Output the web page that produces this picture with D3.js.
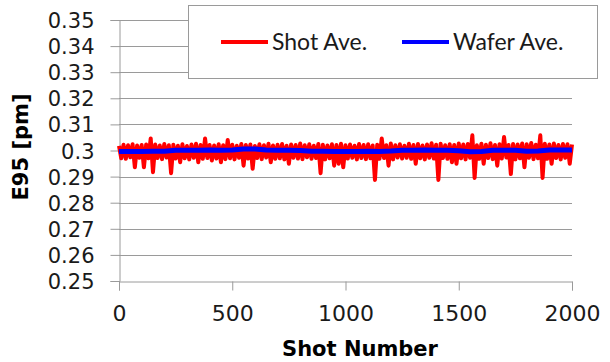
<!DOCTYPE html>
<html>
<head>
<meta charset="utf-8">
<script src="https://cdn.jsdelivr.net/npm/d3@7"></script>
<style>
  html, body { margin: 0; padding: 0; background: #fff; }
  svg { display: block; }
  .tick text { font-family: "DejaVu Sans", sans-serif; fill: #1a1a1a; }
  .y-axis .tick text { font-size: 21px; }
  .x-axis .tick text { font-size: 22px; }
  .title { font-family: "DejaVu Sans", sans-serif; font-weight: bold; font-size: 21px; fill: #000; }
  .legend text { font-family: Lato, "DejaVu Sans", sans-serif; font-size: 23px; fill: #1a1a1a; }
</style>
</head>
<body>
<svg id="chart" width="610" height="362"></svg>
<script>
// Per-shot E95 averages, sampled every 10 shots (0 .. 2000)
const shotStep = 10;
const shotAve = [
  0.3018, 0.2970, 0.3022, 0.2968, 0.3020, 0.2974, 0.3024, 0.2936, 0.3019, 0.2972,
  0.3021, 0.2936, 0.3023, 0.2970, 0.3046, 0.2917, 0.3023, 0.2971, 0.3019, 0.2967,
  0.3025, 0.2973, 0.3020, 0.2913, 0.3022, 0.2969, 0.3018, 0.2955, 0.3024, 0.2970,
  0.3017, 0.2966, 0.3023, 0.2972, 0.3026, 0.2955, 0.3021, 0.2968, 0.3046, 0.2971,
  0.3021, 0.2962, 0.3019, 0.2969, 0.3024, 0.2955, 0.3020, 0.2967, 0.3040, 0.2970,
  0.3022, 0.2966, 0.3018, 0.2972, 0.3025, 0.2942, 0.3021, 0.2969, 0.3023, 0.2930,
  0.3017, 0.2971, 0.3024, 0.2967, 0.3020, 0.2973, 0.3026, 0.2955, 0.3019, 0.2968,
  0.3022, 0.2970, 0.3025, 0.2966, 0.3018, 0.2949, 0.3023, 0.2972, 0.3021, 0.2969,
  0.3027, 0.2967, 0.3020, 0.2974, 0.3024, 0.2968, 0.3018, 0.2971, 0.3025, 0.2913,
  0.3022, 0.2966, 0.3019, 0.2970, 0.3024, 0.2942, 0.3021, 0.2949, 0.3026, 0.2936,
  0.3020, 0.2969, 0.3023, 0.2972, 0.3018, 0.2966, 0.3025, 0.2971, 0.3021, 0.2967,
  0.3024, 0.2970, 0.3019, 0.2887, 0.3022, 0.2968, 0.3046, 0.2971, 0.3020, 0.2942,
  0.3027, 0.2966, 0.3020, 0.2973, 0.3024, 0.2969, 0.3018, 0.2972, 0.3026, 0.2968,
  0.3021, 0.2949, 0.3025, 0.2970, 0.3019, 0.2966, 0.3023, 0.2972, 0.3028, 0.2969,
  0.3022, 0.2887, 0.3026, 0.2971, 0.3020, 0.2968, 0.3024, 0.2955, 0.3021, 0.2949,
  0.3027, 0.2970, 0.3023, 0.2966, 0.3025, 0.2972, 0.3058, 0.2895, 0.3020, 0.2968,
  0.3026, 0.2949, 0.3022, 0.2971, 0.3028, 0.2967, 0.3021, 0.2942, 0.3024, 0.2969,
  0.3052, 0.2973, 0.3021, 0.2910, 0.3025, 0.2966, 0.3023, 0.2970, 0.3027, 0.2936,
  0.3024, 0.2972, 0.3029, 0.2967, 0.3022, 0.2970, 0.3058, 0.2895, 0.3026, 0.2968,
  0.3023, 0.2949, 0.3027, 0.2971, 0.3021, 0.2966, 0.3025, 0.2972, 0.3024, 0.2949,
  0.3023
];

// Running wafer averages, sampled every 50 shots (0 .. 2000)
const waferStep = 50;
const waferAve = [
  0.2996, 0.2996, 0.2996, 0.2997, 0.2997, 0.3001, 0.3001, 0.3001, 0.3002, 0.3001,
  0.3002, 0.3006, 0.3006, 0.3002, 0.3001, 0.3001, 0.3000, 0.2997, 0.2997, 0.2996,
  0.2996, 0.2996, 0.2997, 0.2996, 0.2998, 0.3001, 0.3001, 0.3002, 0.3001, 0.3001,
  0.2999, 0.2995, 0.2996, 0.3001, 0.3001, 0.3001, 0.2997, 0.2998, 0.3002, 0.3002,
  0.3002
];

const xTicks = [0, 500, 1000, 1500, 2000];
const yTicks = [0.25, 0.26, 0.27, 0.28, 0.29, 0.30, 0.31, 0.32, 0.33, 0.34, 0.35];
const seriesNames = ["Shot Ave.", "Wafer Ave."];
const seriesColors = ["#ff0000", "#0000ff"];
const xTitle = "Shot Number";
const yTitle = "E95 [pm]";

const svg = d3.select("#chart");
const plot = { left: 119, right: 572, top: 20, bottom: 281 };

const x = d3.scaleLinear().domain([0, 2000]).range([plot.left, plot.right]);
const y = d3.scaleLinear().domain([0.25, 0.35]).range([plot.bottom, plot.top]);

const gridColor = "#9a9a9a";

// horizontal gridlines
svg.append("g")
  .selectAll("line")
  .data(yTicks.filter(v => v > 0.25))
  .join("line")
  .attr("x1", plot.left).attr("x2", plot.right)
  .attr("y1", d => Math.round(y(d)) + 0.5).attr("y2", d => Math.round(y(d)) + 0.5)
  .attr("stroke", gridColor).attr("stroke-width", 1);

// y axis
const yAxis = svg.append("g")
  .attr("class", "y-axis")
  .attr("transform", `translate(${plot.left + 0.5},0)`)
  .call(d3.axisLeft(y).tickValues(yTicks).tickSize(9).tickPadding(16)
    .tickFormat(d => String(+d.toFixed(2))));
yAxis.select(".domain").attr("stroke", gridColor);
yAxis.selectAll(".tick line").attr("stroke", gridColor);
yAxis.selectAll(".tick text").attr("dy", "0.36em");
yAxis.attr("font-family", null).attr("font-size", null);

// x axis
const xAxis = svg.append("g")
  .attr("class", "x-axis")
  .attr("transform", `translate(0,${plot.bottom + 0.5})`)
  .call(d3.axisBottom(x).tickValues(xTicks).tickSize(9).tickPadding(14)
    .tickFormat(d3.format("d")));
xAxis.select(".domain").attr("stroke", gridColor);
xAxis.selectAll(".tick line").attr("stroke", gridColor);
xAxis.selectAll(".tick text").attr("y", 39).attr("dy", 0);
xAxis.attr("font-family", null).attr("font-size", null);

// data lines
const shotLine = d3.line().x((d, i) => x(i * shotStep)).y(d => y(d));
const waferLine = d3.line().x((d, i) => x(i * waferStep)).y(d => y(d));

svg.append("path")
  .datum(shotAve)
  .attr("d", shotLine)
  .attr("fill", "none")
  .attr("stroke", seriesColors[0])
  .attr("stroke-width", 4)
  .attr("stroke-linejoin", "round");

svg.append("path")
  .datum(waferAve)
  .attr("d", waferLine)
  .attr("fill", "none")
  .attr("stroke", seriesColors[1])
  .attr("stroke-width", 5)
  .attr("stroke-linejoin", "round");

// axis titles
svg.append("text")
  .attr("class", "title")
  .attr("x", 360).attr("y", 356)
  .attr("text-anchor", "middle")
  .text(xTitle);

svg.append("text")
  .attr("class", "title")
  .attr("transform", "translate(28,147) rotate(-90)")
  .attr("text-anchor", "middle")
  .text(yTitle);

// legend
const legend = svg.append("g").attr("class", "legend");
legend.append("rect")
  .attr("x", 188.5).attr("y", 5.5).attr("width", 409).attr("height", 73)
  .attr("fill", "#fff").attr("stroke", gridColor).attr("stroke-width", 1);

const legendItems = [
  { x: 221, name: seriesNames[0], color: seriesColors[0] },
  { x: 402, name: seriesNames[1], color: seriesColors[1] }
];
const item = legend.selectAll("g.item")
  .data(legendItems)
  .join("g")
  .attr("class", "item")
  .attr("transform", d => `translate(${d.x},42)`);
item.append("line")
  .attr("x1", 0).attr("x2", 47).attr("y1", 0).attr("y2", 0)
  .attr("stroke", d => d.color).attr("stroke-width", 4);
item.append("text")
  .attr("x", 51).attr("y", 8)
  .text(d => d.name);
</script>
</body>
</html>
